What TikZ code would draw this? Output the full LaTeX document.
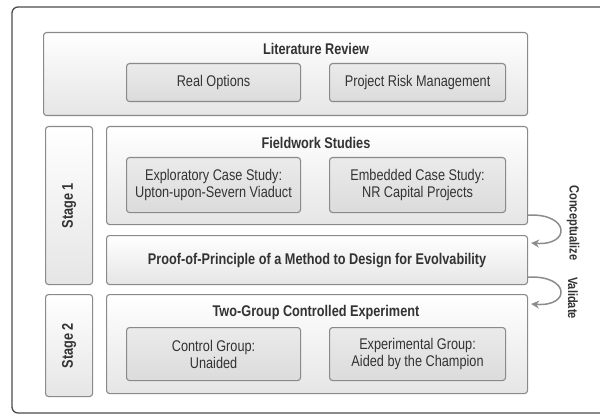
\documentclass[tikz,border=0pt]{standalone}
\usepackage{fontspec}
\setmainfont{Liberation Sans}[FakeStretch=0.82]
\usetikzlibrary{arrows.meta,calc}
\definecolor{edge}{HTML}{8A8A8A}
\definecolor{txt}{HTML}{333333}
\tikzset{
  outerbox/.style={draw=edge, line width=1.1pt, rounded corners=3pt, top color=white, bottom color=black!10, inner sep=0pt, anchor=north west},
  innerbox/.style={draw=edge, line width=1.1pt, rounded corners=3pt, top color=black!8, bottom color=black!14, inner sep=0pt, anchor=north west, align=center, text=txt, font=\fontsize{15.5}{17}\selectfont},
  title/.style={text=txt, font=\fontsize{15.5}{17}\selectfont\bfseries},
  flowarrow/.style={draw=black!45, line width=1.5pt, -{Stealth[length=8pt,width=8pt]}},
  side/.style={text=txt, font=\fontsize{13.5}{15}\selectfont\bfseries, rotate=-90}
}
\begin{document}
\begin{tikzpicture}[x=1pt,y=-1pt]
\useasboundingbox (0,0) rectangle (600,417);
\fill[white] (0,0) rectangle (600,417);
\draw[black!70, line width=1.3pt, rounded corners=6pt] (12,7) rectangle (610,413);
% Literature review
\node[outerbox, minimum width=484pt, minimum height=83pt] (lit) at (43,32) {};
\node[title] (littitle) at (316,49) {Literature Review};
\node[innerbox, minimum width=174pt, minimum height=38pt] (ro) at (126,63) {Real Options};
\node[innerbox, minimum width=176pt, minimum height=38pt] (prm) at (329,63) {Project Risk Management};
% Stage boxes
\node[outerbox, minimum width=47pt, minimum height=158pt] (s1) at (45,126) {};
\node[title, rotate=90] (s1t) at (s1.center) {Stage 1};
\node[outerbox, minimum width=47pt, minimum height=102pt] (s2) at (45,294) {};
\node[title, rotate=90] (s2t) at (s2.center) {Stage 2};
% Fieldwork
\node[outerbox, minimum width=421pt, minimum height=98pt] (field) at (106,126) {};
\node[title] (fieldtitle) at (316,143) {Fieldwork Studies};
\node[innerbox, minimum width=174pt, minimum height=55pt] (exp) at (126,157) {Exploratory Case Study:\\Upton-upon-Severn Viaduct};
\node[innerbox, minimum width=176pt, minimum height=55pt] (emb) at (329,157) {Embedded Case Study:\\NR Capital Projects};
% Proof
\node[outerbox, minimum width=421pt, minimum height=49pt] (proof) at (106,235) {};
\node[title] (prooftitle) at (proof.center) {Proof-of-Principle of a Method to Design for Evolvability};
% Two group
\node[outerbox, minimum width=421pt, minimum height=99pt] (two) at (106,294) {};
\node[title] (twotitle) at (316,312) {Two-Group Controlled Experiment};
\node[innerbox, minimum width=174pt, minimum height=53pt] (ctrl) at (126,327) {Control Group:\\Unaided};
\node[innerbox, minimum width=176pt, minimum height=53pt] (expg) at (329,327) {Experimental Group:\\Aided by the Champion};
% arrows
\draw[flowarrow] ($(field.south east)+(0,-10)$) .. controls +(42,-2) and +(40,3) .. ($(proof.north east)+(3,8)$);
\draw[flowarrow] ($(proof.south east)+(0,-8)$) .. controls +(42,-2) and +(40,3) .. ($(two.north east)+(3,10)$);
\node[side] (concept) at (573,223) {Conceptualize};
\node[side] (valid) at (573,298) {Validate};
\end{tikzpicture}
\end{document}
